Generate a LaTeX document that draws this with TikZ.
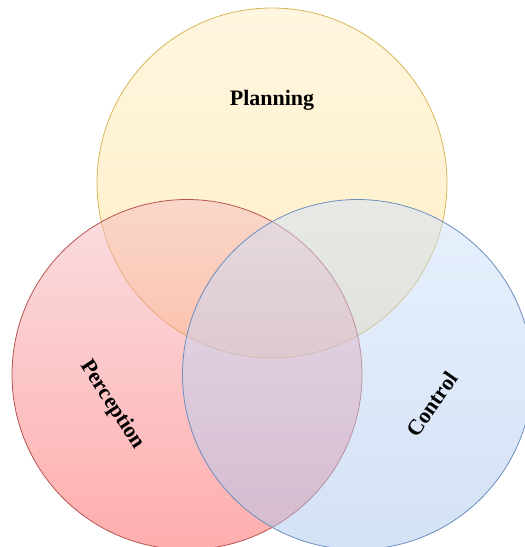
\documentclass[tikz,border=0pt]{standalone}
\usepackage{fontspec}
\setmainfont{Liberation Serif}
\definecolor{plantop}{RGB}{255,237,192}
\definecolor{planbot}{RGB}{255,222,140}
\definecolor{planline}{RGB}{214,182,86}
\definecolor{pertop}{RGB}{245,189,195}
\definecolor{perbot}{RGB}{255,92,92}
\definecolor{perline}{RGB}{184,84,80}
\definecolor{contop}{RGB}{209,225,249}
\definecolor{conbot}{RGB}{169,197,237}
\definecolor{conline}{RGB}{108,142,191}
\tikzset{
  vset/.style={circle, minimum size=350pt, inner sep=0pt, fill opacity=0.5, line width=0.8pt},
  vlabel/.style={font=\fontsize{22}{25}\selectfont\bfseries, text=black}
}
\begin{document}
\begin{tikzpicture}[x=1pt,y=-1pt]
\useasboundingbox (0,0) rectangle (525,547);
\clip (0,0) rectangle (525,547);
\node[vset, draw=planline, top color=plantop, bottom color=planbot] (plan) at (272,183) {};
\node[vset, draw=perline, top color=pertop, bottom color=perbot] (perc) at (187,374.5) {};
\node[vset, draw=conline, top color=contop, bottom color=conbot] (ctrl) at (357.5,374.5) {};
\node[vlabel] (tplan) at (272,100) {Planning};
\node[vlabel, rotate=-57] (tperc) at (112,405) {Perception};
\node[vlabel, rotate=55] (tctrl) at (432,404) {Control};
\end{tikzpicture}
\end{document}
